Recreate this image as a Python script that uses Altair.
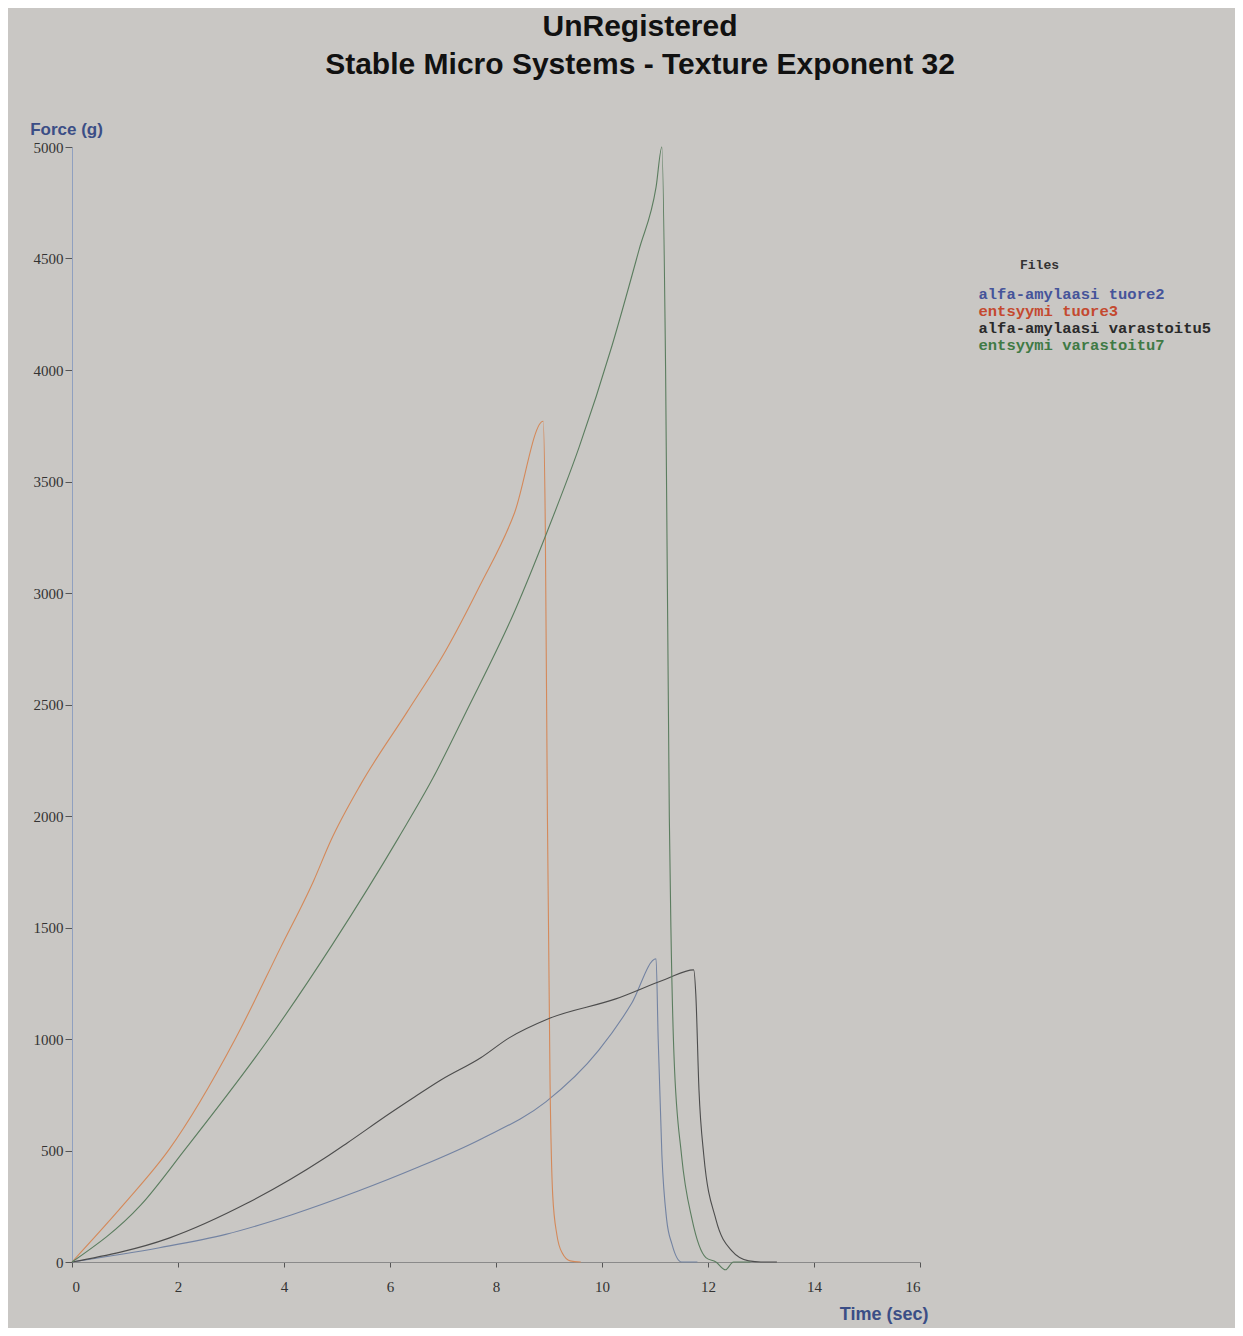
import altair as alt
import pandas as pd

# ---- data ----
names = ["alfa-amylaasi tuore2", "entsyymi tuore3", "alfa-amylaasi varastoitu5", "entsyymi varastoitu7"]

blue_t = [0, 1.65, 2.9, 4.15, 5.4, 6.48, 7.73, 8.94, 9.94, 10.56, 11.02, 11.06, 11.13, 11.22, 11.32, 11.5, 11.8]
blue_f = [0, 64, 124, 212, 318, 420, 553, 718, 950, 1160, 1360, 1000, 480, 190, 80, 0, 0]

orange_t = [0, 1.0, 1.83, 3.08, 3.94, 4.56, 4.88, 5.45, 6.33, 7.05, 7.69, 8.35, 8.89, 8.93, 8.97, 9.02, 9.07, 9.15, 9.25, 9.4, 9.6]
orange_f = [0, 265, 504, 1000, 1412, 1710, 1888, 2143, 2469, 2741, 3030, 3360, 3770, 3300, 2000, 800, 300, 120, 40, 5, 0]

dark_t = [0, 1.83, 3.3, 4.77, 5.2, 6.0, 6.47, 6.96, 7.72, 8.24, 9.0, 10.26, 11.2, 11.73, 11.77, 11.83, 11.92, 12.15, 12.45, 12.77, 13.0, 13.3]
dark_f = [0, 107, 263, 466, 535, 667, 741, 816, 917, 1004, 1092, 1180, 1268, 1310, 1200, 770, 480, 190, 50, 5, 0, 0]

green_t = [0, 1.3, 2.13, 3.71, 4.93, 6.16, 6.81, 7.44, 8.36, 8.95, 9.57, 10.19, 10.7, 11.02, 11.13, 11.2, 11.27, 11.3, 11.36, 11.5, 11.7, 11.96, 12.15, 12.33, 12.48, 12.8]
green_f = [0, 256, 504, 1000, 1430, 1902, 2170, 2469, 2923, 3266, 3655, 4110, 4540, 4820, 5000, 4000, 2000, 1500, 915, 480, 190, 20, 0, -35, 0, 0]

x_ticks = [0, 2, 4, 6, 8, 10, 12, 14, 16]
y_ticks = [0, 500, 1000, 1500, 2000, 2500, 3000, 3500, 4000, 4500, 5000]

line_colors = ["#7383a2", "#d4895a", "#4d4d4d", "#5b7d5f"]
label_colors = ["#45549a", "#c4492f", "#2a2a2a", "#3f7a45"]

series = [(names[0], blue_t, blue_f), (names[1], orange_t, orange_f),
          (names[2], dark_t, dark_f), (names[3], green_t, green_f)]
rows = []
for name, ts, fs in series:
    for i, (t, f) in enumerate(zip(ts, fs)):
        rows.append({"series": name, "t": t, "F": f, "i": i})
df = pd.DataFrame(rows)

expr = ""
for n, c in zip(names[:-1], label_colors[:-1]):
    expr += f"datum.label == '{n}' ? '{c}' : "
expr += f"'{label_colors[-1]}'"

lines = alt.Chart(df).mark_line(strokeWidth=1.1, interpolate="monotone").encode(
    x=alt.X("t:Q", scale=alt.Scale(domain=[0, 16], nice=False),
            axis=alt.Axis(values=x_ticks, title="Time (sec)", titleX=856, titleY=57,
                          titleAlign="right", titleBaseline="alphabetic",
                          domainColor="#8a8a8a", tickSize=5, labelPadding=12)),
    y=alt.Y("F:Q", scale=alt.Scale(domain=[0, 5000], nice=False),
            axis=alt.Axis(values=y_ticks, format="d", title="Force (g)", titleAngle=0,
                          titleX=-6, titleY=-13, titleAlign="center", titleBaseline="alphabetic",
                          titleFontSize=17,
                          domainColor="#8fa0c0", tickSize=7, labelPadding=2)),
    color=alt.Color("series:N", scale=alt.Scale(domain=names, range=line_colors),
                    legend=alt.Legend(orient="none", legendX=891, legendY=139,
                                      title=None,
                                      labelFont="Liberation Mono", labelFontSize=15.5,
                                      labelFontWeight="bold",
                                      labelColor=alt.ExprRef(expr=expr),
                                      symbolSize=0, symbolOpacity=0, symbolStrokeWidth=0,
                                      labelOffset=0, rowPadding=-0.5, padding=0, labelLimit=400)),
    order="i:Q",
)

files_label = ["Files"]
files = alt.Chart(pd.DataFrame({"txt": files_label})).mark_text(
    align="left", baseline="middle", font="Liberation Mono", fontWeight="bold",
    fontSize=13, color="#333333",
).encode(x=alt.value(948), y=alt.value(118), text="txt:N")

chart = alt.layer(lines, files).properties(
    width=848, height=1115,
    background="#c9c7c4",
    padding={"left": 64, "top": 139, "right": 315, "bottom": 66},
    autosize=alt.AutoSizeParams(type="none"),
    title=alt.TitleParams(text="UnRegistered", subtitle="Stable Micro Systems - Texture Exponent 32",
                          anchor="middle", dx=144, fontSize=30, subtitleFontSize=30,
                          font="Liberation Sans", subtitleFont="Liberation Sans",
                          fontWeight="bold", subtitleFontWeight="bold",
                          color="#111111", subtitleColor="#111111",
                          subtitlePadding=8, offset=40),
).configure_axis(
    grid=False, labelFont="Liberation Serif", labelFontSize=15, labelColor="#333333",
    tickColor="#555555", titleFont="Liberation Sans", titleFontSize=18,
    titleFontWeight="bold", titleColor="#3b4e86",
).configure_view(stroke=None)

chart.save("out.html", embed_options={"renderer": "svg", "actions": False})
